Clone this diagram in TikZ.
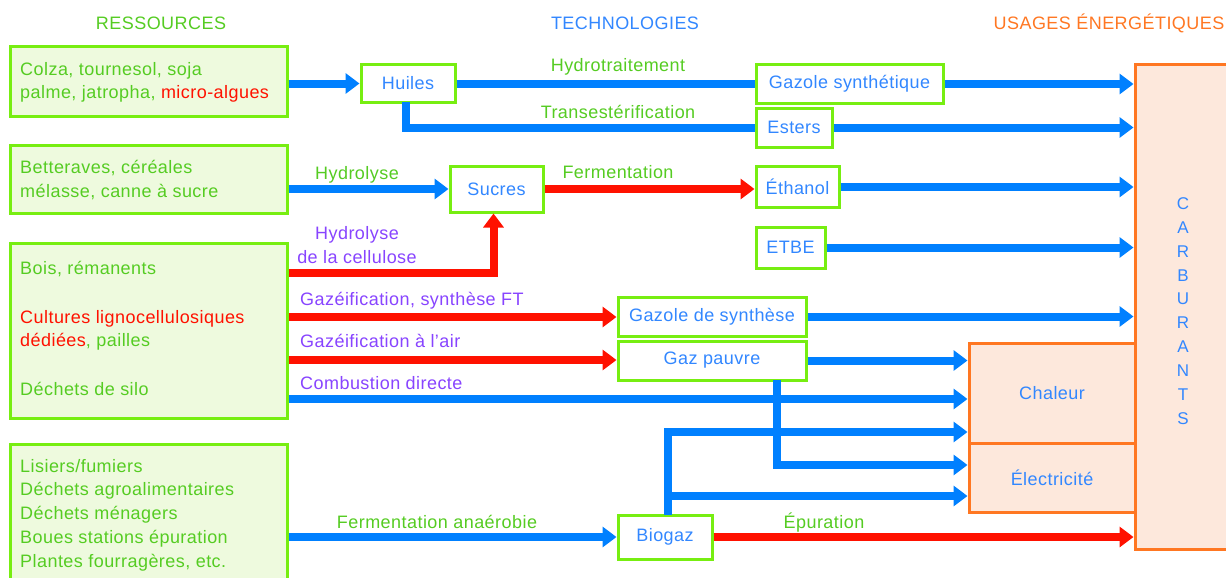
\documentclass[tikz,border=0pt]{standalone}
\usepackage{fontspec}
\setmainfont{Liberation Sans}[LetterSpace=2.5]
\usetikzlibrary{arrows.meta}
\definecolor{cgreenb}{RGB}{119,238,17}
\definecolor{cgreenf}{RGB}{238,250,222}
\definecolor{cgreent}{RGB}{85,204,34}
\definecolor{cblue}{RGB}{0,128,255}
\definecolor{ctblue}{RGB}{50,135,255}
\definecolor{cred}{RGB}{255,17,0}
\definecolor{cpurple}{RGB}{136,68,255}
\definecolor{corange}{RGB}{255,119,34}
\definecolor{corangef}{RGB}{253,232,220}
\tikzset{
  txt/.style={font=\fontsize{18}{24}\selectfont, inner sep=0pt},
  resbox/.style={draw=cgreenb, fill=cgreenf, line width=3pt, inner sep=0pt},
  techbox/.style={draw=cgreenb, fill=white, line width=3pt, inner sep=0pt, text=ctblue, font=\fontsize{18}{24}\selectfont},
  usebox/.style={draw=corange, fill=corangef, line width=3pt, inner sep=0pt, text=ctblue, font=\fontsize{18}{24}\selectfont},
  bline/.style={draw=cblue, line width=8pt},
  bflow/.style={draw=cblue, line width=8pt, -{Triangle[length=14pt,width=20pt]}},
  rflow/.style={draw=cred, line width=8pt, -{Triangle[length=14pt,width=20pt]}},
  head/.style={txt, anchor=base},
  glabel/.style={txt, anchor=base, text=cgreent},
  plabel/.style={txt, anchor=base, text=cpurple},
}
\begin{document}
\begin{tikzpicture}[x=1pt,y=-1pt]
\clip (0,0) rectangle (1226,578);
\fill[white] (0,0) rectangle (1226,578);

% headers
\node[head, text=cgreent] (hres) at (161,30) {RESSOURCES};
\node[head, text=ctblue] (htech) at (625,30) {TECHNOLOGIES};
\node[head, text=corange] (husage) at (1109,30) {USAGES ÉNERGÉTIQUES};

% resource boxes
\node[resbox, minimum width=277pt, minimum height=69pt] (r1) at (148.5,81.5) {};
\node[resbox, minimum width=277pt, minimum height=68pt] (r2) at (148.5,179) {};
\node[resbox, minimum width=277pt, minimum height=175pt] (r3) at (148.5,330.5) {};
\node[resbox, minimum width=277pt, minimum height=160pt] (r4) at (148.5,524) {};

\node[txt, anchor=base west, text=cgreent] (t1a) at (20,75) {Colza, tournesol, soja};
\node[txt, anchor=base west, text=cgreent] (t1b) at (20,99) {palme, jatropha, \textcolor{cred}{micro-algues}};
\node[txt, anchor=base west, text=cgreent] (t2a) at (20,173) {Betteraves, céréales};
\node[txt, anchor=base west, text=cgreent] (t2b) at (20,197) {mélasse, canne à sucre};
\node[txt, anchor=base west, text=cgreent] (t3a) at (20,274) {Bois, rémanents};
\node[txt, anchor=base west, text=cred] (t3b) at (20,323) {Cultures lignocellulosiques};
\node[txt, anchor=base west, text=cgreent] (t3c) at (20,346) {\textcolor{cred}{dédiées}, pailles};
\node[txt, anchor=base west, text=cgreent] (t3d) at (20,395) {Déchets de silo};
\node[txt, anchor=base west, text=cgreent] (t4a) at (20,472) {Lisiers/fumiers};
\node[txt, anchor=base west, text=cgreent] (t4b) at (20,495) {Déchets agroalimentaires};
\node[txt, anchor=base west, text=cgreent] (t4c) at (20,519) {Déchets ménagers};
\node[txt, anchor=base west, text=cgreent] (t4d) at (20,543) {Boues stations épuration};
\node[txt, anchor=base west, text=cgreent] (t4e) at (20,567) {Plantes fourragères, etc.};

% usage boxes
\node[usebox, minimum width=110pt, minimum height=484pt] (carb) at (1190,307) {};
\node[txt, text=ctblue, align=center, font=\fontsize{17}{23.9}\selectfont] (carbt) at (1183,311) {C\\A\\R\\B\\U\\R\\A\\N\\T\\S};
\node[usebox, minimum width=166pt, minimum height=100pt] (chal) at (1052,393) {Chaleur};
\node[usebox, minimum width=166pt, minimum height=69pt, text depth=-6pt] (elec) at (1052,477.5) {Électricité};

% technology boxes
\node[techbox, minimum width=94pt, minimum height=37pt] (huiles) at (408,83.5) {Huiles};
\node[techbox, minimum width=187pt, minimum height=38pt] (gs) at (849.5,84) {Gazole synthétique};
\node[techbox, minimum width=76pt, minimum height=39pt] (esters) at (794,127.5) {Esters};
\node[techbox, minimum width=93pt, minimum height=46pt] (sucres) at (496.5,189) {Sucres};
\node[techbox, minimum width=83pt, minimum height=41pt] (ethanol) at (797.5,187) {Éthanol};
\node[techbox, minimum width=69pt, minimum height=41pt] (etbe) at (790.5,247.5) {ETBE};
\node[techbox, minimum width=188pt, minimum height=39pt] (gds) at (712,316.5) {Gazole de synthèse};
\node[techbox, minimum width=188pt, minimum height=39pt] (gp) at (712,360.5) {Gaz pauvre};
\node[techbox, minimum width=94pt, minimum height=44pt] (biogaz) at (665,537) {Biogaz};

% helper coordinates
\coordinate (y273) at (0,273);
\coordinate (y317) at (0,317);
\coordinate (y360) at (0,360);
\coordinate (y399) at (0,399);
\coordinate (y432) at (0,432);
\coordinate (y465) at (0,465);
\coordinate (y496) at (0,496);
\coordinate (gpdown) at (777,380);
\coordinate (bgup) at (668,515);
\coordinate (bgj) at (668,496);
\coordinate (hdown) at (406,102);

% connectors
\draw[bflow] (r1.east |- huiles.west) -- (huiles.west);
\draw[bline] (huiles.east) -- (huiles.east -| gs.west);
\draw[bline] (hdown) |- (esters.west);
\draw[bflow] (gs.east) -- (gs.east -| carb.west);
\draw[bflow] (esters.east) -- (esters.east -| carb.west);
\draw[bflow] (r2.east |- sucres.west) -- (sucres.west);
\draw[rflow] (sucres.east) -- (sucres.east -| ethanol.west);
\draw[bflow] (ethanol.east) -- (ethanol.east -| carb.west);
\draw[bflow] (etbe.east) -- (etbe.east -| carb.west);
\draw[rflow] (r3.east |- y273) -| ([xshift=-3pt]sucres.south);
\draw[rflow] (r3.east |- y317) -- (y317 -| gds.west);
\draw[rflow] (r3.east |- y360) -- (y360 -| gp.west);
\draw[bflow] (r3.east |- y399) -- (y399 -| chal.west);
\draw[bflow] (gds.east) -- (gds.east -| carb.west);
\draw[bflow] (gp.east) -- (gp.east -| chal.west);
\draw[bflow] (gpdown) |- (y465 -| elec.west);
\draw[bflow] (bgup) |- (y432 -| chal.west);
\draw[bflow] (bgj) -- (bgj -| elec.west);
\draw[bflow] (r4.east |- biogaz.west) -- (biogaz.west);
\draw[rflow] (biogaz.east) -- (biogaz.east -| carb.west);

% labels
\node[glabel] (lhydrot) at (618,72) {Hydrotraitement};
\node[glabel] (ltrans) at (618,118) {Transestérification};
\node[glabel] (lhydro) at (357,179) {Hydrolyse};
\node[glabel] (lferm) at (618,178) {Fermentation};
\node[plabel] (lhc1) at (357,239) {Hydrolyse};
\node[plabel] (lhc2) at (357,263) {de la cellulose};
\node[plabel, anchor=base west] (lgaz1) at (300,305) {Gazéification, synthèse FT};
\node[plabel, anchor=base west] (lgaz2) at (300,347) {Gazéification à l’air};
\node[plabel, anchor=base west] (lcomb) at (300,389) {Combustion directe};
\node[glabel] (lfa) at (437,528) {Fermentation anaérobie};
\node[glabel] (lepu) at (824,528) {Épuration};
\end{tikzpicture}
\end{document}
